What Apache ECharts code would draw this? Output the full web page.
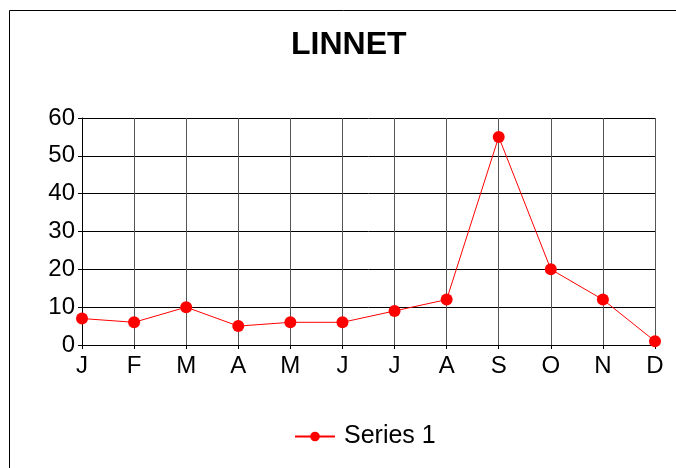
<!DOCTYPE html>
<html>
<head>
<meta charset="utf-8">
<title>LINNET</title>
<script src="https://cdn.jsdelivr.net/npm/echarts@6/dist/echarts.min.js"></script>
<style>
    html, body { margin: 0; padding: 0; background: #fff; }
    #line-chart { width: 676px; height: 468px; }
</style>
</head>
<body>
<div id="line-chart"></div>
<script>
// 月份 / 数据
const months = ['J', 'F', 'M', 'A', 'M', 'J', 'J', 'A', 'S', 'O', 'N', 'D'];
const series1 = [7, 6, 10, 5, 6, 6, 9, 12, 55, 20, 12, 1];
const yTicks = [0, 10, 20, 30, 40, 50, 60];

const font = '"Liberation Sans", Arial, sans-serif';

let myChart = echarts.init(document.getElementById('line-chart'));

myChart.setOption({
    animation: false,
    textStyle: { fontFamily: font },
    title: {
        text: 'LINNET',
        left: 291,
        top: 29,
        padding: 0,
        textStyle: { fontSize: 32, fontWeight: 'bold', color: '#000', fontFamily: font }
    },
    // 外框（只看得到左边和上边）
    graphic: [{
        type: 'rect',
        shape: { x: 9.5, y: 10.5, width: 700, height: 500 },
        style: { fill: 'none', stroke: '#000', lineWidth: 1 },
        silent: true
    }],
    legend: {
        left: 294,
        top: 424,
        padding: 0,
        itemWidth: 40,
        itemHeight: 12,
        itemGap: 10,
        data: ['Series 1'],
        textStyle: { fontSize: 25, color: '#000', fontFamily: font, padding: [0, 0, 0, 4] }
    },
    grid: {
        left: 82,
        right: 21,
        top: 118,
        bottom: 123
    },
    xAxis: {
        type: 'category',
        boundaryGap: false,
        data: months,
        axisLine: { lineStyle: { color: '#000', width: 1 } },
        axisTick: { show: true, length: 4, lineStyle: { color: '#000' } },
        axisLabel: { fontSize: 24, color: '#000', margin: 9 },
        splitLine: { show: true, lineStyle: { color: '#555', width: 1 } }
    },
    yAxis: {
        type: 'value',
        min: yTicks[0],
        max: yTicks[yTicks.length - 1],
        interval: 10,
        axisLine: { show: true, lineStyle: { color: '#000', width: 1 } },
        axisTick: { show: true, length: 4, lineStyle: { color: '#000' } },
        axisLabel: { fontSize: 24, color: '#000', margin: 7 },
        splitLine: { show: true, lineStyle: { color: '#000', width: 1 } }
    },
    series: [{
        name: 'Series 1',
        type: 'line',
        data: series1,
        symbol: 'circle',
        symbolSize: 12,
        lineStyle: { color: '#ff0000', width: 1 },
        itemStyle: { color: '#ff0000' }
    }]
});
</script>
</body>
</html>
